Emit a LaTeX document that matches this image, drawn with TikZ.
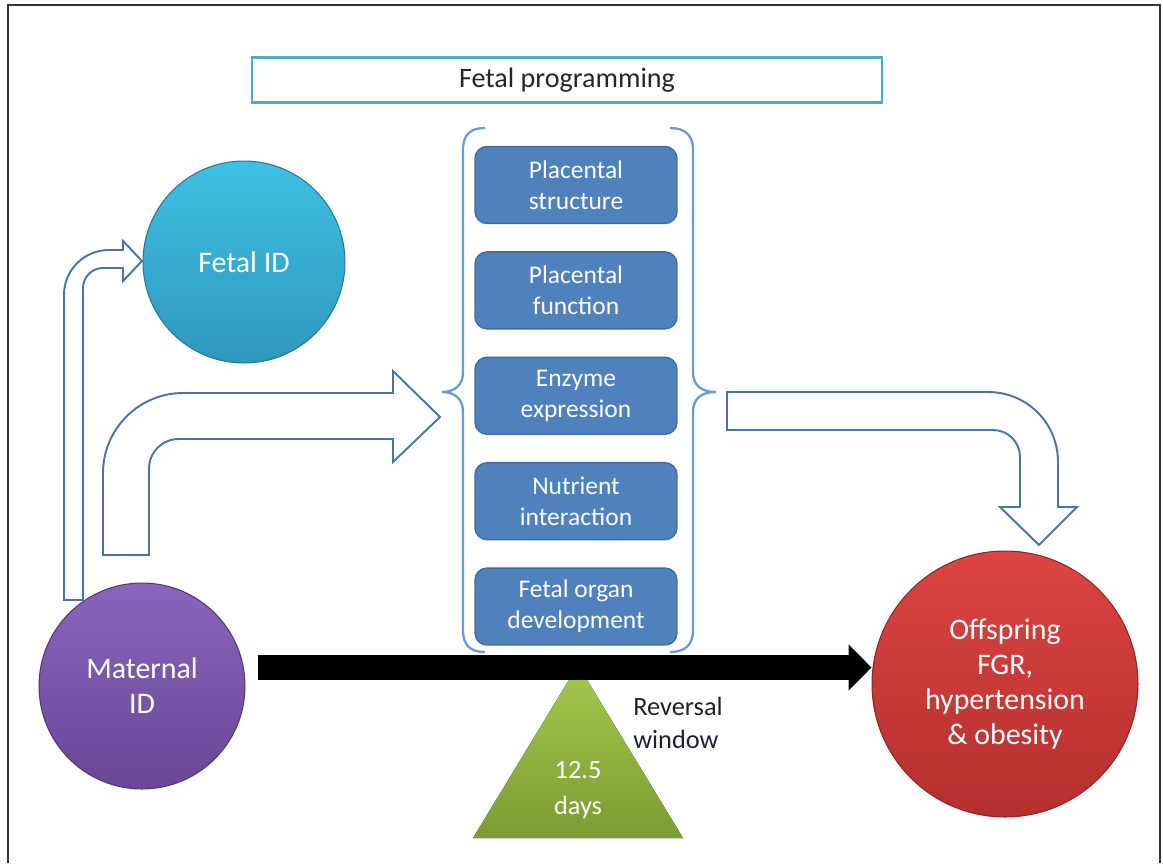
\documentclass[tikz,border=0pt]{standalone}
\usepackage{fontspec}
\setmainfont{Carlito}
\usepackage{tikz}
\usetikzlibrary{arrows.meta,positioning}

\definecolor{stageblue}{HTML}{4F81BD}
\definecolor{stageedge}{HTML}{3F6CA3}
\definecolor{outline}{HTML}{4A74A8}
\definecolor{bracecol}{HTML}{6A9AD4}
\definecolor{titleedge}{HTML}{4BACC6}
\definecolor{fetaltop}{HTML}{3FC0E4}
\definecolor{fetalbot}{HTML}{2E98BC}
\definecolor{mattop}{HTML}{8A64BC}
\definecolor{matbot}{HTML}{694795}
\definecolor{offtop}{HTML}{DC4442}
\definecolor{offbot}{HTML}{B3302E}
\definecolor{wintop}{HTML}{A6C84C}
\definecolor{winbot}{HTML}{7C9C34}
\definecolor{labeltext}{HTML}{1E1E36}

\begin{document}
\begin{tikzpicture}[x=0.02cm, y=-0.02cm, node distance=0.54cm,
        stage/.style={rectangle, rounded corners=0.24cm, draw=stageedge, line width=0.8pt, fill=stageblue, text=white, align=center, minimum width=4.04cm, minimum height=1.54cm, inner sep=0.1cm, font=\fontsize{14.5}{17.5}\selectfont},
        ball/.style={circle, draw=#1, line width=0.6pt, inner sep=0pt, text=white, align=center, font=\fontsize{17}{20}\selectfont},
        hollow/.style={draw=outline, line width=1.1pt, fill=white, line join=miter},
        brace/.style={draw=bracecol, line width=1.3pt},
        timeline/.style={line width=0.5cm, -{Triangle[length=0.46cm, width=0.9cm]}}]

    \useasboundingbox (0,0) rectangle (1163,863);
    \draw[black!80, line width=0.9pt] (8,863) -- (8,5) -- (1160,5) -- (1160,863);

    \node[draw=titleedge, line width=1.2pt, minimum width=12.6cm, minimum height=0.9cm, text=black!85, font=\fontsize{16}{19}\selectfont] (title) at (567,80) {Fetal programming};

    \draw[brace] (485,128) .. controls (470,128) and (463,135) .. (463,150) -- (463,372) .. controls (463,385) and (455,392) .. (442,392) .. controls (455,392) and (463,399) .. (463,412) -- (463,630) .. controls (463,645) and (470,652) .. (485,652);
    \draw[brace] (670,128) .. controls (685,128) and (693,135) .. (693,150) -- (693,372) .. controls (693,385) and (701,392) .. (716,392) .. controls (701,392) and (693,399) .. (693,412) -- (693,630) .. controls (693,645) and (685,652) .. (670,652);

    \node[stage] (structure) at (576,185) {Placental\\structure};
    \node[stage, below=of structure] (function) {Placental\\function};
    \node[stage, below=of function] (enzyme) {Enzyme\\expression};
    \node[stage, below=of enzyme] (nutrient) {Nutrient\\interaction};
    \node[stage, below=of nutrient] (organ) {Fetal organ\\development};

    \node[ball=fetalbot!80!black, minimum size=4.04cm, top color=fetaltop, bottom color=fetalbot] (fetal) at (244,262) {Fetal ID};
    \node[ball=matbot!80!black, minimum size=4.12cm, top color=mattop, bottom color=matbot] (maternal) at (142,686) {Maternal\\ID};
    \node[ball=offbot!80!black, minimum size=5.32cm, top color=offtop, bottom color=offbot] (offspring) at (1005,684) {Offspring\\FGR,\\hypertension\\\& obesity};

    \draw[hollow] (64,600) -- (64,295) .. controls (64,270) and (84,250) .. (109,250) -- (123,250) -- (123,241) -- (142,261) -- (123,281) -- (123,268) -- (103,268) .. controls (92,268) and (83,277) .. (83,288) -- (83,600) -- cycle;
    \draw[hollow] (103,555) -- (103,473) .. controls (103,429) and (139,393) .. (183,393) -- (393,393) -- (393,371) -- (440,417) -- (393,462) -- (393,439) -- (179,439) .. controls (162,439) and (149,452) .. (149,469) -- (149,555) -- cycle;
    \draw[hollow] (727,392) -- (988,392) .. controls (1027,392) and (1058,423) .. (1058,462) -- (1058,507) -- (1077,507) -- (1039,545) -- (1000,507) -- (1020,507) -- (1020,457) .. controls (1020,442) and (1008,430) .. (993,430) -- (727,430) -- cycle;

    \fill[top color=wintop, bottom color=winbot] (578,665) -- (683,838) -- (473,838) -- cycle;
    \node[text=white, align=center, font=\fontsize{15}{20}\selectfont] (days) at (578,790) {12.5\\days};
    \node[anchor=west, align=left, inner sep=0pt, text=labeltext, font=\fontsize{15}{19}\selectfont] (reversal) at (633,723) {Reversal\\window};

    \coordinate (tl) at (258,667.5);
    \draw[timeline] (tl) -- (tl -| offspring.west);

\end{tikzpicture}
\end{document}
